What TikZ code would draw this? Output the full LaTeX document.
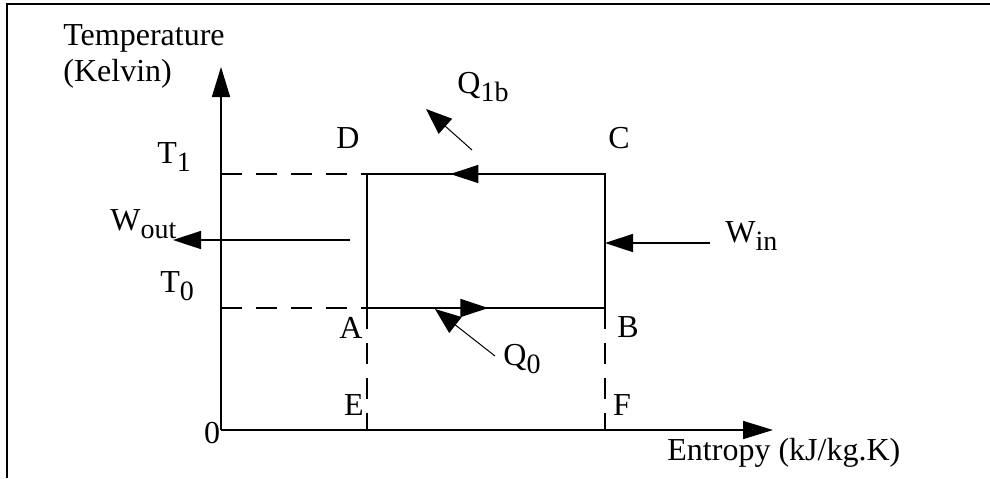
\documentclass[tikz,border=0pt]{standalone}
\usepackage{fontspec}
\setmainfont{Liberation Serif}
\usetikzlibrary{arrows.meta,calc}
\newcommand\lowidx[1]{\raisebox{-4pt}{\fontsize{14}{16}\selectfont #1}}

\begin{document}
\begin{tikzpicture}[x=0.5pt,y=-0.5pt,
  frame/.style={line width=1pt},
  axis/.style={line width=0.8pt,-{Triangle[length=15pt,width=9pt]}},
  cycle/.style={line width=0.8pt},
  guide/.style={line width=0.8pt,dash pattern=on 10.5pt off 7pt},
  flow/.style={line width=0.8pt,-{Triangle[length=14pt,width=9pt]}},
  heat/.style={line width=0.5pt,-{Triangle[length=13pt,width=10pt]}},
  lbl/.style={inner sep=0pt,font=\fontsize{16}{18.5}\selectfont}
]
  \useasboundingbox (0,0) rectangle (990,478);
  \draw[frame] (7,478) -- (7,4) -- (990,4);

  % corners of the cycle and axis points
  \coordinate (O) at (221,430);
  \coordinate (ytip) at (221,67);
  \coordinate (xtip) at (773,430);
  \coordinate (A) at (367,308);
  \coordinate (B) at (605,308);
  \coordinate (C) at (605,174);
  \coordinate (D) at (367,174);
  \coordinate (E) at (367,430);
  \coordinate (F) at (605,430);
  \coordinate (tone) at (221,174);
  \coordinate (tzero) at (221,308);
  \coordinate (woutstart) at (350,240);
  \coordinate (woutend) at (173,240);
  \coordinate (winstart) at (710,243);
  \coordinate (winend) at (605,243);
  \coordinate (qhstart) at (472,150);
  \coordinate (qhend) at (426,109);
  \coordinate (qlstart) at (495,356);
  \coordinate (qlend) at (435,309);

  \draw[axis] (O) -- (ytip);
  \draw[axis] (O) -- (xtip);
  \draw[cycle] (A) -- (B) -- (C) -- (D) -- cycle;
  \draw[guide] (tone) -- (D);
  \draw[guide] (tzero) -- (A);
  \draw[guide] (A) -- (E);
  \draw[guide] (B) -- (F);
  \draw[flow] (A) -- ($(A)!0.51!(B)$);
  \draw[flow] ($(C)!0.45!(D)$) -- ($(C)!0.65!(D)$);
  \draw[flow] (woutstart) -- (woutend);
  \draw[flow] (winstart) -- (winend);
  \draw[heat] (qhstart) -- (qhend);
  \draw[heat] (qlstart) -- (qlend);

  % labels
  \node[lbl,anchor=base west] (temp) at (63,45) {Temperature};
  \node[lbl,anchor=base west] (kelvin) at (63,81) {(Kelvin)};
  \node[lbl,anchor=base west] (tonelbl) at (157,163) {T\lowidx{1}};
  \node[lbl,anchor=base west] (tzerolbl) at (160,292) {T\lowidx{0}};
  \node[lbl,anchor=base west] (woutlbl) at (110,230) {W\lowidx{out}};
  \node[lbl,anchor=base west] (winlbl) at (725,242) {W\lowidx{in}};
  \node[lbl,anchor=base west] (qhlbl) at (457,93) {Q\lowidx{1b}};
  \node[lbl,anchor=base west] (qllbl) at (503,365) {Q\lowidx{0}};
  \node[lbl,anchor=base] (Dlbl) at (348,148) {D};
  \node[lbl,anchor=base] (Clbl) at (619,148) {C};
  \node[lbl,anchor=base] (Albl) at (351,338) {A};
  \node[lbl,anchor=base] (Blbl) at (628,337) {B};
  \node[lbl,anchor=base] (Elbl) at (354,415) {E};
  \node[lbl,anchor=base] (Flbl) at (622,415) {F};
  \node[lbl,anchor=base] (Olbl) at (212,443) {0};
  \node[lbl,anchor=base west] (entropy) at (667,460) {Entropy (kJ/kg.K)};
\end{tikzpicture}
\end{document}
